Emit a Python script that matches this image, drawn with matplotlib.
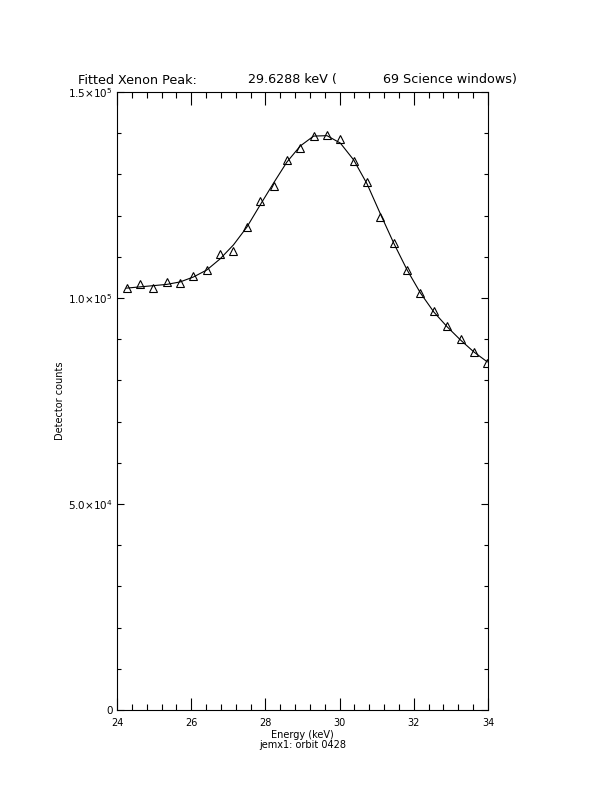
import numpy as np
import matplotlib
matplotlib.use('Agg')
import matplotlib.pyplot as plt
from matplotlib.ticker import MultipleLocator, FixedLocator, FixedFormatter

# measured spectrum (keV, counts) and the fitted model at the same energies
energy = [24.26, 24.62, 24.98, 25.34, 25.70, 26.06, 26.42, 26.78, 27.14, 27.50,
          27.86, 28.22, 28.58, 28.94, 29.30, 29.66, 30.02, 30.38, 30.74, 31.10,
          31.46, 31.82, 32.18, 32.54, 32.90, 33.26, 33.62, 33.98]
counts = [102500, 103300, 102500, 103800, 103600, 105400, 106800, 110700, 111500, 117200,
          123600, 127300, 133500, 136300, 139300, 139600, 138700, 133200, 128200, 119600,
          113400, 106800, 101100, 96800, 93300, 90000, 86800, 84300]
fit = [102400, 102700, 103000, 103300, 103900, 105100, 106800, 109500, 112900, 117200,
       122600, 127900, 133000, 136900, 139300, 139400, 137600, 133500, 127700, 120400,
       113300, 106800, 101200, 96600, 93000, 89800, 86900, 84500]

ytick_vals = [0, 50000, 100000, 150000]
ytick_labels = ['0', r'5.0$\times$10$^4$', r'1.0$\times$10$^5$', r'1.5$\times$10$^5$']

W, H = 612, 792
fig = plt.figure(figsize=(W / 100, H / 100), dpi=100)
ax = fig.add_axes([117 / W, 1 - 710 / H, 371 / W, 618 / H])

ax.plot(energy, fit, color='k', linewidth=0.8)
ax.plot(energy, counts, linestyle='none', marker='^', markersize=6,
        fillstyle='none', markeredgecolor='k', markeredgewidth=0.8)

ax.set_xlim(24, 34)
ax.set_ylim(0, 150000)

ax.xaxis.set_major_locator(MultipleLocator(2))
ax.xaxis.set_minor_locator(MultipleLocator(0.4))
ax.yaxis.set_major_locator(FixedLocator(ytick_vals))
ax.yaxis.set_major_formatter(FixedFormatter(ytick_labels))
ax.yaxis.set_minor_locator(MultipleLocator(10000))

ax.tick_params(axis='both', which='both', direction='in', top=True, right=True,
               width=0.8)
ax.tick_params(axis='x', which='major', length=9, pad=6, labelsize=7)
ax.tick_params(axis='x', which='minor', length=4.5)
ax.tick_params(axis='y', which='major', length=5.3, pad=3, labelsize=7.5)
ax.tick_params(axis='y', which='minor', length=2.7)
for s in ax.spines.values():
    s.set_linewidth(0.8)

# title in three pieces, as spaced in the original
def figtext_px(x, y, s, **kw):
    fig.text(x / W, 1 - y / H, s, **kw)

figtext_px(78, 80, 'Fitted Xenon Peak:', fontsize=9.2, va='center', ha='left')
figtext_px(248, 80, '29.6288 keV (', fontsize=9.2, va='center', ha='left')
figtext_px(383, 80, '69 Science windows)', fontsize=9.2, va='center', ha='left')

figtext_px(302.5, 735, 'Energy (keV)', fontsize=7, va='center', ha='center')
figtext_px(302.5, 745, 'jemx1: orbit 0428', fontsize=7, va='center', ha='center')
figtext_px(60, 401, 'Detector counts', fontsize=7, va='center', ha='center', rotation=90)

fig.savefig('out.png', dpi=100)
